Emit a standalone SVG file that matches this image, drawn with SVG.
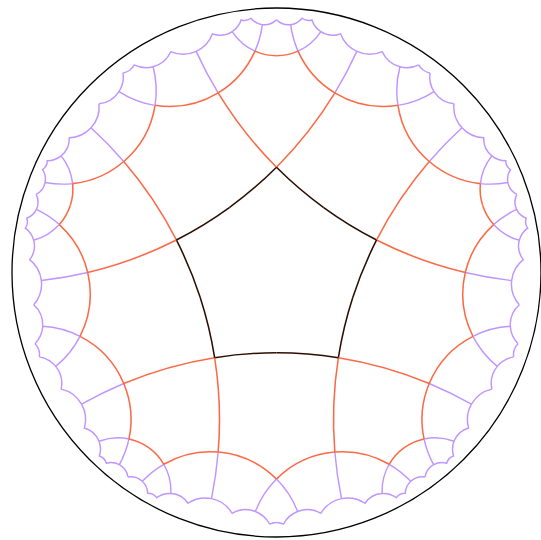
<svg xmlns="http://www.w3.org/2000/svg" width="541" height="540" viewBox="0 0 541 540">
<style>
.k{fill:none;stroke:#2b0e02;stroke-width:0.0058}
.o{fill:none;stroke:#fb6a46;stroke-width:0.0058}
.p{fill:none;stroke:#bf95ff;stroke-width:0.0055}
</style>
<defs>
<g id="sector">
<path class="p" d="M0.22058,-0.67887 A1.49535,1.49535 0 0 0 0.30373,-0.83609 M0.05357,-0.93702 A0.353,0.353 0 0 0 0.08138,-0.83701 M0.4591,-0.6319 A0.353,0.353 0 0 0 0.59558,-0.68414 M0.08138,-0.83701 A0.20012,0.20012 0 0 0 0.16775,-0.91071 M0,-0.95543 A0.0645,0.0645 0 0 0 0.05357,-0.93702 A0.0645,0.0645 0 0 0 0.09653,-0.96142 A0.0405,0.0405 0 0 0 0.13392,-0.95487 A0.08333,0.08333 0 0 0 0.16775,-0.91071 A0.08333,0.08333 0 0 0 0.24209,-0.90241 A0.11767,0.11767 0 0 0 0.30373,-0.83609 A0.11767,0.11767 0 0 0 0.39958,-0.83538 M0.58039,-0.75432 A0.10168,0.10168 0 0 0 0.59558,-0.68414 A0.10168,0.10168 0 0 0 0.67101,-0.63817 M0.58039,-0.75432 A0.05661,0.05661 0 0 1 0.55545,-0.76452"/>
<path class="o" d="M0,-0.39798 A1.49535,1.49535 0 0 0 0.22058,-0.67887 M0.08138,-0.83701 A0.353,0.353 0 0 0 0.22058,-0.67887 A0.353,0.353 0 0 0 0.4591,-0.6319 M0,-0.81971 A0.20012,0.20012 0 0 0 0.08138,-0.83701"/>
<path class="k" d="M-0.17843,-0.24558 A1.49535,1.49535 0 0 0 0,-0.39798"/>
</g>
</defs>
<rect width="541" height="540" fill="#ffffff"/>
<circle cx="276.5" cy="272.5" r="264.5" fill="none" stroke="#000000" stroke-width="1.3"/>
<g id="tiling" transform="translate(276.5 272.5) scale(264.5)">
<use href="#sector"/>
<use href="#sector" transform="rotate(72)"/>
<use href="#sector" transform="rotate(144)"/>
<use href="#sector" transform="rotate(216)"/>
<use href="#sector" transform="rotate(288)"/>
<use href="#sector" transform="scale(-1 1)"/>
<use href="#sector" transform="rotate(72) scale(-1 1)"/>
<use href="#sector" transform="rotate(144) scale(-1 1)"/>
<use href="#sector" transform="rotate(216) scale(-1 1)"/>
<use href="#sector" transform="rotate(288) scale(-1 1)"/>
</g>
</svg>
